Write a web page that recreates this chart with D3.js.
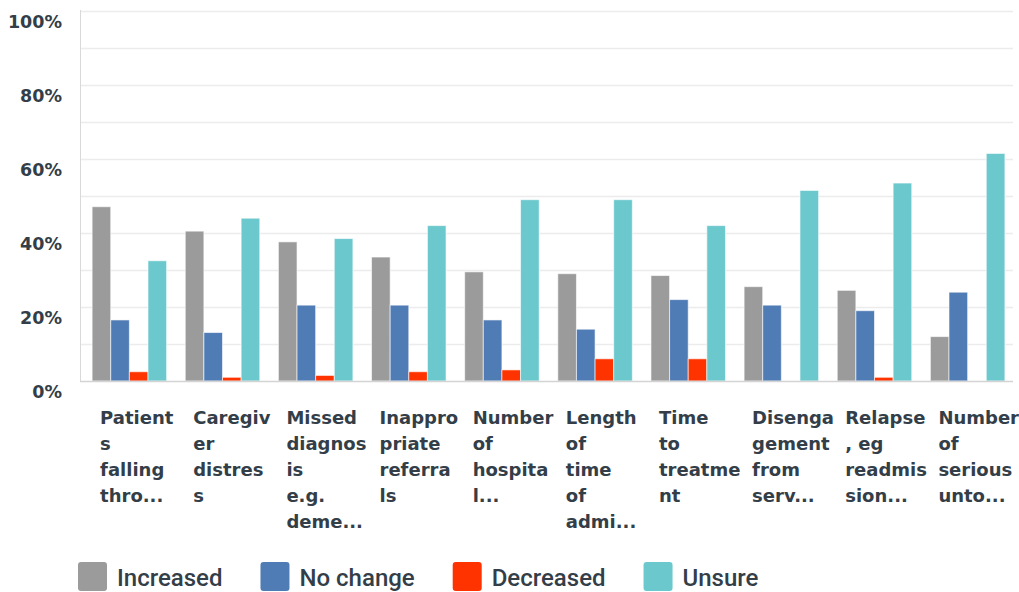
<!DOCTYPE html>
<html>
<head>
<meta charset="utf-8">
<script src="https://cdn.jsdelivr.net/npm/d3@7"></script>
<style>
  body { margin: 0; background: #fff; }
  text { font-family: "DejaVu Sans", sans-serif; fill: #333e48; }
</style>
</head>
<body>
<div id="chart"></div>
<script>
var categories = ['Patients falling thro...', 'Caregiver distress', 'Missed diagnosis e.g. deme...',
  'Inappropriate referrals', 'Number of hospital...', 'Length of time of admi...',
  'Time to treatment', 'Disengagement from serv...', 'Relapse, eg readmission...',
  'Number of serious unto...'];

// wrapped lines as they appear under each group
var categoryLines = [
  ['Patient', 's', 'falling', 'thro...'],
  ['Caregiv', 'er', 'distres', 's'],
  ['Missed', 'diagnos', 'is', 'e.g.', 'deme...'],
  ['Inappro', 'priate', 'referra', 'ls'],
  ['Number', 'of', 'hospita', 'l...'],
  ['Length', 'of', 'time', 'of', 'admi...'],
  ['Time', 'to', 'treatme', 'nt'],
  ['Disenga', 'gement', 'from', 'serv...'],
  ['Relapse', ', eg', 'readmis', 'sion...'],
  ['Number', 'of', 'serious', 'unto...']
];

var seriesNames = ['Increased', 'No change', 'Decreased', 'Unsure'];
var seriesColors = ['#9b9b9b', '#507cb6', '#ff3300', '#6bc8cd'];

var increased = [47.1, 40.5, 37.6, 33.5, 29.5, 29.0, 28.5, 25.5, 24.5, 12.0];
var noChange  = [16.5, 13.1, 20.5, 20.5, 16.5, 14.0, 22.0, 20.5, 19.0, 24.0];
var decreased = [2.5, 1.0, 1.5, 2.5, 3.0, 6.0, 6.0, 0, 1.0, 0];
var unsure    = [32.5, 44.0, 38.5, 42.0, 49.0, 49.0, 42.0, 51.5, 53.5, 61.5];

var yTicks = [0, 20, 40, 60, 80, 100];

var series = [increased, noChange, decreased, unsure];

var width = 1019, height = 592;
var plotLeft = 80, plotRight = 1013, plotTop = 11, plotBottom = 381;

var svg = d3.select('#chart').append('svg')
  .attr('width', width)
  .attr('height', height);

var y = d3.scaleLinear().domain([0, 100]).range([plotBottom, plotTop]);

var x0 = d3.scaleBand()
  .domain(categories)
  .range([plotLeft, 1017])
  .paddingInner(0.2)
  .paddingOuter(0.13);

var x1 = d3.scaleBand()
  .domain(seriesNames)
  .range([0, x0.bandwidth()]);

// gridlines every 10%
svg.append('g')
  .selectAll('line')
  .data(d3.range(10, 101, 10))
  .enter().append('line')
  .attr('x1', plotLeft)
  .attr('x2', plotRight)
  .attr('y1', function(d) { return Math.round(y(d)) + 0.5; })
  .attr('y2', function(d) { return Math.round(y(d)) + 0.5; })
  .attr('stroke', '#ececec')
  .attr('stroke-width', 1.5);

// y axis
var yAxis = svg.append('g')
  .attr('transform', 'translate(' + plotLeft + ',0)')
  .call(d3.axisLeft(y).tickValues(yTicks).tickSize(0).tickPadding(18)
    .tickFormat(function(d) { return d + '%'; }));
yAxis.select('.domain').remove();
yAxis.selectAll('text')
  .attr('dy', 16)
  .style('font-family', '"DejaVu Sans", sans-serif')
  .style('font-size', '17.5px')
  .style('font-weight', 'bold')
  .style('fill', '#333e48');

svg.append('line')
  .attr('x1', plotLeft + 0.5).attr('x2', plotLeft + 0.5)
  .attr('y1', plotTop - 1).attr('y2', plotBottom)
  .attr('stroke', '#d9d9d9');

// bars
var groups = svg.append('g')
  .selectAll('g')
  .data(categories)
  .enter().append('g')
  .attr('transform', function(d) { return 'translate(' + x0(d) + ',0)'; });

groups.selectAll('rect')
  .data(function(d, i) {
    return seriesNames.map(function(s, j) { return { key: s, value: series[j][i], color: seriesColors[j] }; });
  })
  .enter().append('rect')
  .attr('x', function(d) { return x1(d.key); })
  .attr('width', x1.bandwidth())
  .attr('y', function(d) { return y(d.value); })
  .attr('height', function(d) { return plotBottom - y(d.value); })
  .attr('fill', function(d) { return d.color; })
  .attr('stroke', function(d) { return d.value > 0 ? 'rgba(255,255,255,0.6)' : 'none'; })
  .attr('stroke-width', 1);

// baseline
svg.append('line')
  .attr('x1', plotLeft).attr('x2', plotRight)
  .attr('y1', plotBottom + 0.5).attr('y2', plotBottom + 0.5)
  .attr('stroke', '#d4d4d4')
  .attr('stroke-width', 1.5);

// category labels
var labels = svg.append('g')
  .selectAll('text')
  .data(categories)
  .enter().append('text')
  .attr('x', function(d) { return x0(d) + 8; })
  .attr('y', 424)
  .style('font-size', '18px')
  .style('font-weight', 'bold');

labels.selectAll('tspan')
  .data(function(d, i) { return categoryLines[i]; })
  .enter().append('tspan')
  .attr('x', function() { return d3.select(this.parentNode).attr('x'); })
  .attr('dy', function(d, i) { return i === 0 ? 0 : 26; })
  .text(function(d) { return d; });

// legend
var legend = svg.append('g');
var lx = 78;
seriesNames.forEach(function(s, i) {
  legend.append('rect')
    .attr('x', lx).attr('y', 562)
    .attr('width', 29).attr('height', 29)
    .attr('rx', 3)
    .attr('fill', seriesColors[i]);
  var t = legend.append('text')
    .attr('x', lx + 39)
    .attr('y', 586)
    .style('font-family', 'Roboto, sans-serif')
    .style('font-size', '24px')
    .style('font-weight', 500)
    .text(s);
  lx += 39 + t.node().getComputedTextLength() + 38;
});
</script>
</body>
</html>
